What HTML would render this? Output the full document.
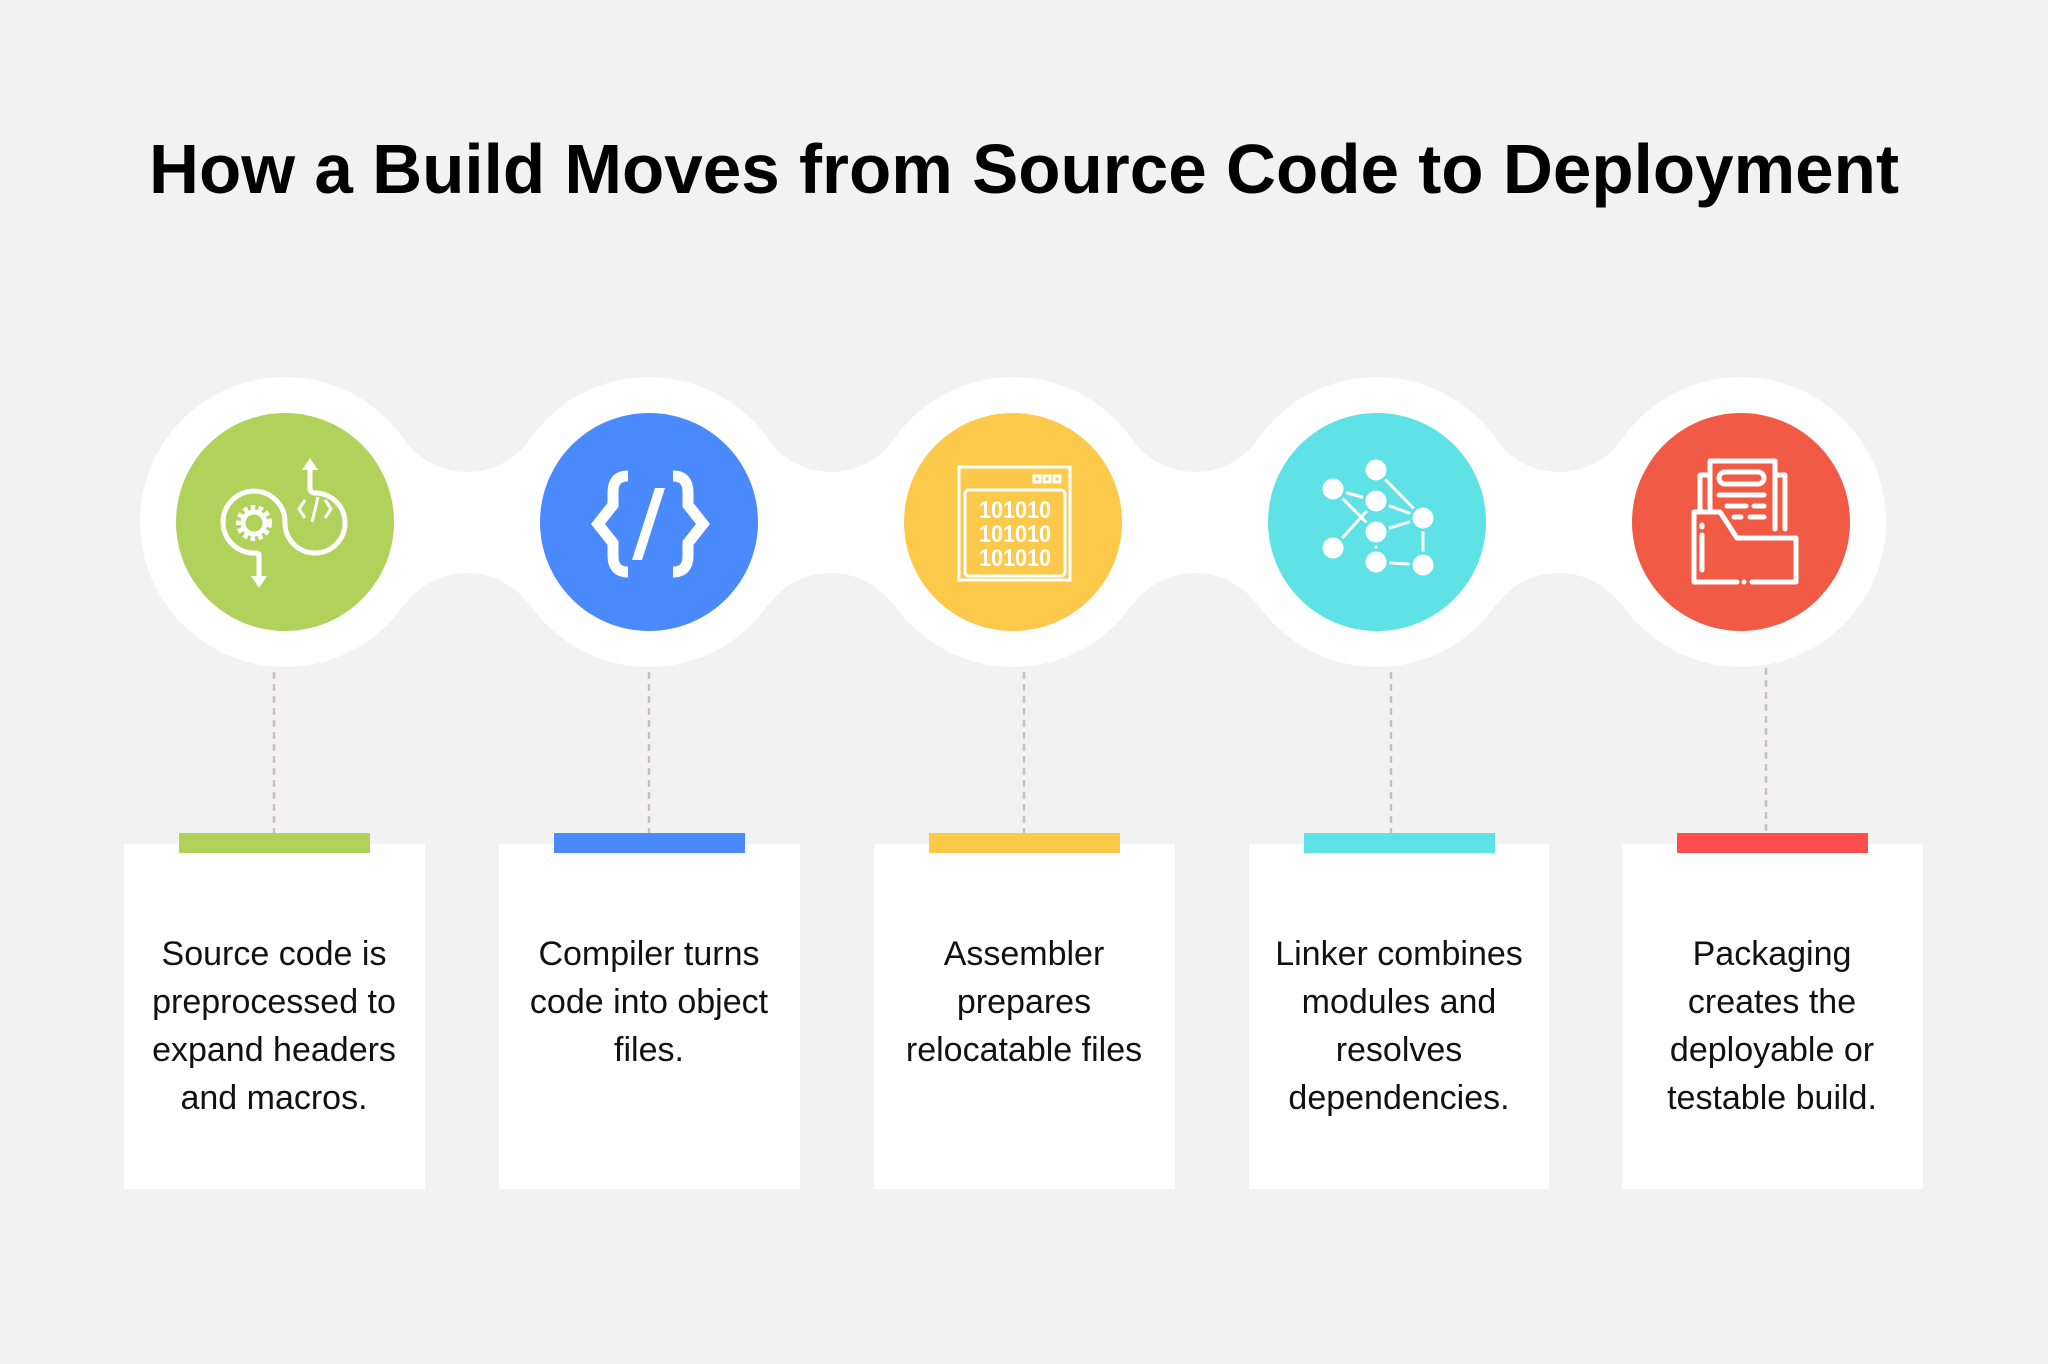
<!DOCTYPE html>
<html><head><meta charset="utf-8"><style>
html,body{margin:0;padding:0;background:#f2f2f2;}
svg{display:block}
</style></head><body>
<svg width="2048" height="1364" viewBox="0 0 2048 1364" xmlns="http://www.w3.org/2000/svg">
<rect width="2048" height="1364" fill="#f2f2f2"/>
<text x="1024" y="193" text-anchor="middle" font-family="Liberation Sans, sans-serif" font-weight="bold" font-size="70" fill="#000" textLength="1750" lengthAdjust="spacingAndGlyphs">How a Build Moves from Source Code to Deployment</text>

<g fill="#fff">
<rect x="285" y="439" width="1456" height="166"/>
<circle cx="285" cy="522" r="145"/><circle cx="649" cy="522" r="145"/><circle cx="1013" cy="522" r="145"/><circle cx="1377" cy="522" r="145"/><circle cx="1741" cy="522" r="145"/>
</g>
<g fill="#f2f2f2">
<circle cx="467" cy="395" r="77"/><circle cx="467" cy="650" r="77"/>
<circle cx="831" cy="395" r="77"/><circle cx="831" cy="650" r="77"/>
<circle cx="1195" cy="395" r="77"/><circle cx="1195" cy="650" r="77"/>
<circle cx="1559" cy="395" r="77"/><circle cx="1559" cy="650" r="77"/>
</g>
<circle cx="285" cy="522" r="109" fill="#b0d25a"/>
<circle cx="649" cy="522" r="109" fill="#4a8afc"/>
<circle cx="1013" cy="522" r="109" fill="#fdc94a"/>
<circle cx="1377" cy="522" r="109" fill="#5ee2e6"/>
<circle cx="1741" cy="522" r="109" fill="#f15a45"/>

<g fill="none" stroke="#fff" stroke-width="5">
<path d="M259 557 L259 555 Q259 553 256 553 A31 31 0 1 1 285 523 A30 30 0 1 0 315 493 Q310 493 310 488 L310 465"/>
<line x1="259" y1="557" x2="259" y2="582"/>
<path d="M305 500 l-6 9 6 9 M325 500 l6 9 -6 9 M318 497 l-6 25" stroke-width="3"/>
</g>
<polygon points="310,458 302,470 318,470" fill="#fff"/>
<polygon points="259,588 251,576 267,576" fill="#fff"/>
<circle cx="254" cy="523" r="14" fill="none" stroke="#fff" stroke-width="8" stroke-dasharray="4 3"/>
<circle cx="254" cy="523" r="11" fill="none" stroke="#fff" stroke-width="5"/>

<g fill="none" stroke="#fff" stroke-width="11">
<path d="M628 476 Q613 476 613 492 L613 505 L598 524 L613 543 L613 556 Q613 572 628 572"/>
<path d="M673 476 Q688 476 688 492 L688 505 L703 524 L688 543 L688 556 Q688 572 673 572"/>
</g>
<polygon points="655,488 665,488 642,560 632,560" fill="#fff"/>

<g fill="none" stroke="#fff" stroke-width="3">
<rect x="959" y="467" width="111" height="113"/>
<rect x="965" y="490" width="100" height="86" rx="4"/>
<rect x="1034" y="476" width="6" height="6"/><rect x="1044" y="476" width="6" height="6"/><rect x="1054" y="476" width="6" height="6"/>
</g>
<g fill="#fff" font-family="Liberation Sans, sans-serif" font-weight="bold" font-size="24" text-anchor="middle">
<text x="1015" y="518" textLength="72" lengthAdjust="spacingAndGlyphs">101010</text>
<text x="1015" y="542" textLength="72" lengthAdjust="spacingAndGlyphs">101010</text>
<text x="1015" y="566" textLength="72" lengthAdjust="spacingAndGlyphs">101010</text>
</g>

<g stroke="#fff" stroke-width="3">
<line x1="1376" y1="470" x2="1423" y2="518"/><line x1="1333" y1="489" x2="1376" y2="501"/>
<line x1="1333" y1="489" x2="1376" y2="532"/><line x1="1376" y1="501" x2="1423" y2="518"/>
<line x1="1376" y1="532" x2="1423" y2="518"/><line x1="1376" y1="501" x2="1333" y2="548"/>
<line x1="1376" y1="532" x2="1376" y2="562"/><line x1="1376" y1="562" x2="1423" y2="565"/>
<line x1="1423" y1="518" x2="1423" y2="565"/>
</g>
<g fill="#fff" stroke="#5ee2e6" stroke-width="3">
<circle cx="1376" cy="470" r="12"/><circle cx="1333" cy="489" r="12"/><circle cx="1376" cy="501" r="12"/>
<circle cx="1423" cy="518" r="12"/><circle cx="1376" cy="532" r="12"/><circle cx="1333" cy="548" r="12"/>
<circle cx="1376" cy="562" r="12"/><circle cx="1423" cy="565" r="12"/>
</g>

<g fill="none" stroke="#fff" stroke-width="5" stroke-linejoin="round" stroke-linecap="round">
<path d="M1710 510 L1710 461 L1775 461 L1775 529"/>
<path d="M1710 475 L1700 475 L1700 512 M1775 475 L1785 475 L1785 529"/>
<rect x="1719" y="472" width="45" height="12" rx="6"/>
<line x1="1719" y1="495" x2="1764" y2="495"/>
<line x1="1727" y1="506" x2="1746" y2="506"/><line x1="1754" y1="506" x2="1764" y2="506"/>
<line x1="1734" y1="517" x2="1741" y2="517"/><line x1="1750" y1="517" x2="1764" y2="517"/>
<path d="M1737 582 L1694 582 L1694 512 L1720 512 L1737 538 L1796 538 L1796 582 L1752 582"/>
<line x1="1702" y1="525" x2="1702" y2="527"/><line x1="1702" y1="535" x2="1702" y2="570"/>
<line x1="1744" y1="582" x2="1744" y2="582"/>
</g>

<g stroke="#c9bfc0" stroke-width="2.5" stroke-dasharray="7 5">
<line x1="274" y1="672" x2="274" y2="833"/><line x1="649" y1="672" x2="649" y2="833"/>
<line x1="1024" y1="672" x2="1024" y2="833"/><line x1="1391" y1="672" x2="1391" y2="833"/>
<line x1="1766" y1="668" x2="1766" y2="833"/>
</g>

<g fill="#fff">
<rect x="124" y="844" width="301" height="345"/><rect x="499" y="844" width="301" height="345"/>
<rect x="874" y="844" width="301" height="345"/><rect x="1249" y="844" width="300" height="345"/>
<rect x="1622" y="844" width="301" height="345"/>
</g>
<rect x="179" y="833" width="191" height="20" fill="#b0d25a"/>
<rect x="554" y="833" width="191" height="20" fill="#4a8afc"/>
<rect x="929" y="833" width="191" height="20" fill="#fdc94a"/>
<rect x="1304" y="833" width="191" height="20" fill="#5ee2e6"/>
<rect x="1677" y="833" width="191" height="20" fill="#ff4c4c"/>

<g font-family="Liberation Sans, sans-serif" font-size="34" fill="#111" text-anchor="middle">
<text x="274" y="965">Source code is</text><text x="274" y="1013">preprocessed to</text><text x="274" y="1061">expand headers</text><text x="274" y="1109">and macros.</text>
<text x="649" y="965">Compiler turns</text><text x="649" y="1013">code into object</text><text x="649" y="1061">files.</text>
<text x="1024" y="965">Assembler</text><text x="1024" y="1013">prepares</text><text x="1024" y="1061">relocatable files</text>
<text x="1399" y="965">Linker combines</text><text x="1399" y="1013">modules and</text><text x="1399" y="1061">resolves</text><text x="1399" y="1109">dependencies.</text>
<text x="1772" y="965">Packaging</text><text x="1772" y="1013">creates the</text><text x="1772" y="1061">deployable or</text><text x="1772" y="1109">testable build.</text>
</g>
</svg>
</body></html>
